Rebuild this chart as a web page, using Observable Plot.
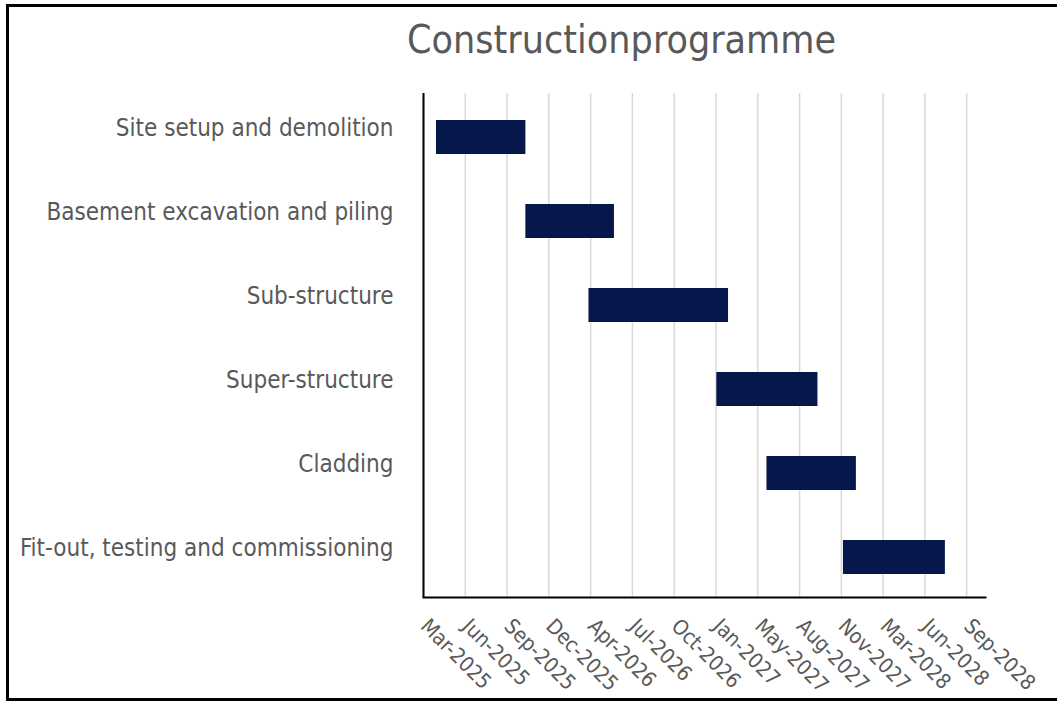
<!DOCTYPE html>
<html>
<head>
<meta charset="utf-8">
<script src="https://cdn.jsdelivr.net/npm/d3@7"></script>
<script src="https://cdn.jsdelivr.net/npm/@observablehq/plot@0.6"></script>
<style>
  html, body { margin: 0; padding: 0; background: #fff; overflow: hidden; }
  #wrap { position: relative; width: 1057px; height: 701px; overflow: hidden; background: #fff; }
  #title {
    position: absolute; top: 20px; left: 407px; white-space: nowrap;
    font-family: "DejaVu Sans Condensed", "DejaVu Sans", sans-serif; font-stretch: condensed;
    font-size: 39px; line-height: 39px; color: #595959; word-spacing: -0.28em;
  }
  #chart { position: absolute; top: 80px; left: 0; }
  #border {
    position: absolute; left: 6px; top: 4px; width: 1100px; height: 697px; box-sizing: border-box;
    border-left: 3px solid #000; border-top: 3px solid #000; border-bottom: 3px solid #000;
    pointer-events: none;
  }
</style>
</head>
<body>
<div id="wrap">
  <div id="title">Construction programme</div>
  <div id="chart"></div>
  <div id="border"></div>
</div>
<script>
const tasks = ["Site setup and demolition", "Basement excavation and piling", "Sub-structure", "Super-structure", "Cladding", "Fit-out, testing and commissioning"];
const starts = ["2025-04-01", "2025-11-01", "2026-04-01", "2027-02-01", "2027-06-01", "2027-12-01"];
const ends   = ["2025-11-01", "2026-06-01", "2027-03-01", "2027-10-01", "2028-01-01", "2028-08-01"];
const tickDates = ["2025-03-01", "2025-06-09", "2025-09-17", "2025-12-26", "2026-04-05", "2026-07-14", "2026-10-22", "2027-01-30", "2027-05-10", "2027-08-18", "2027-11-26", "2028-03-05", "2028-06-13", "2028-09-21"];
const axisMin = "2025-03-01";
const axisMax = "2028-11-05";

const parse = d3.utcParse("%Y-%m-%d");
const fmt = d3.utcFormat("%b-%Y");
const data = tasks.map((t, i) => ({task: t, start: parse(starts[i]), end: parse(ends[i])}));
const ticks = tickDates.map(parse);

const font = '"DejaVu Sans Condensed", "DejaVu Sans", sans-serif';

const chart = Plot.plot({
  width: 1057,
  height: 621,
  marginLeft: 423,
  marginRight: 72,
  marginTop: 13,
  marginBottom: 104,
  style: {fontFamily: font, fontStretch: "condensed", color: "#595959", background: "transparent", overflow: "visible"},
  x: {type: "utc", domain: [parse(axisMin), parse(axisMax)]},
  y: {type: "band", domain: tasks, paddingInner: 0.595, paddingOuter: 0.2975, insetTop: 2, insetBottom: -2},
  marks: [
    Plot.ruleX(ticks, {x: d => d, stroke: "#d9d9d9", strokeWidth: 1.5}),
    Plot.barX(data, {x1: "start", x2: "end", y: "task", fill: "#06174B"}),
    Plot.ruleX([parse(axisMin)], {stroke: "#000", strokeWidth: 2}),
    Plot.frame({anchor: "bottom", stroke: "#000", strokeWidth: 2}),
    Plot.axisY({tickSize: 0, tickPadding: 30, fontSize: 24, dy: -9, fill: "#595959", label: null}),
    Plot.axisX({ticks: [], label: null}),
    Plot.text(ticks, {x: d => d, frameAnchor: "bottom", text: d => fmt(d), rotate: 45, textAnchor: "start", lineAnchor: "bottom", dx: -4, dy: 30, fontSize: 21, fill: "#595959"})
  ]
});
document.getElementById("chart").appendChild(chart);
</script>
</body>
</html>
